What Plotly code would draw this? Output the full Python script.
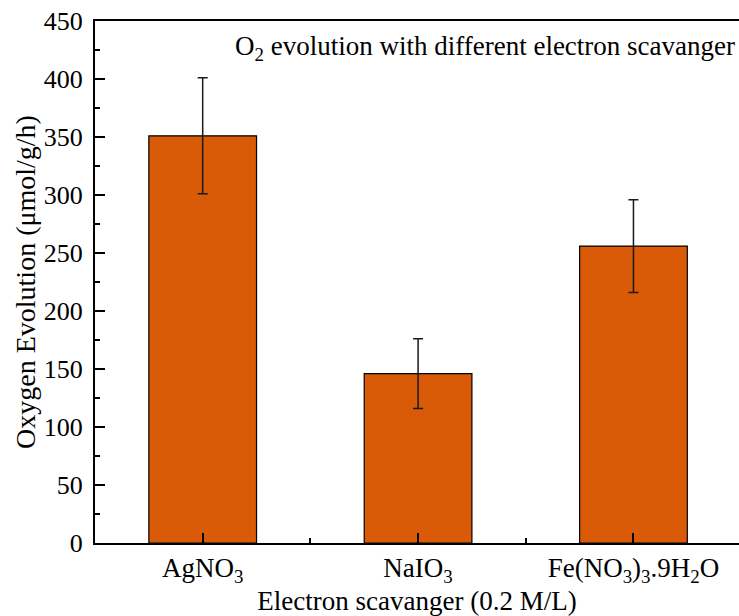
import plotly.graph_objects as go

categories = ["AgNO<sub>3</sub>", "NaIO<sub>3</sub>", "Fe(NO<sub>3</sub>)<sub>3</sub>.9H<sub>2</sub>O"]
positions = [0, 1, 2]
values = [351, 146, 256]
errors = [50, 30, 40]

FONT = "Liberation Serif"

fig = go.Figure()
fig.add_trace(go.Bar(
    x=positions, y=values, width=0.5,
    marker=dict(color="#D95B07", line=dict(color="black", width=1.2)),
    error_y=dict(type="data", array=errors, visible=True, color="#1a1a1a", thickness=1.5, width=5),
    showlegend=False,
))

fig.add_annotation(
    text="O<sub>2</sub> evolution with different electron scavanger",
    xref="paper", yref="paper", x=0.997, y=0.985, xanchor="right", yanchor="top",
    showarrow=False, font=dict(family=FONT, size=27, color="black"),
)

fig.update_layout(
    width=739, height=616,
    margin=dict(l=95, r=0, t=21, b=73),
    paper_bgcolor="white", plot_bgcolor="white",
    font=dict(family=FONT, color="black"),
    bargap=0.5,
)
fig.update_xaxes(
    range=[-0.5, 2.49], tickvals=positions, ticktext=categories,
    showline=True, linecolor="black", linewidth=2, mirror=True,
    ticks="inside", ticklen=10, tickwidth=2, tickcolor="black",
    minor=dict(dtick=0.5, tick0=0.5, ticks="inside", ticklen=5, tickwidth=2, tickcolor="black"),
    tickfont=dict(family=FONT, size=27), showgrid=False, zeroline=False,
    title=dict(text="Electron scavanger (0.2 M/L)", font=dict(family=FONT, size=27), standoff=0),
)
fig.update_yaxes(
    range=[0, 450], dtick=50,
    showline=True, linecolor="black", linewidth=2,
    ticks="inside", ticklen=10, tickwidth=2, tickcolor="black",
    minor=dict(dtick=25, ticks="inside", ticklen=5, tickwidth=2, tickcolor="black"),
    tickfont=dict(family=FONT, size=26), ticklabelstandoff=5, showgrid=False, zeroline=False,
    title=dict(text="Oxygen Evolution (μmol/g/h)", font=dict(family=FONT, size=28), standoff=0),
)

fig.write_html("out.html")
